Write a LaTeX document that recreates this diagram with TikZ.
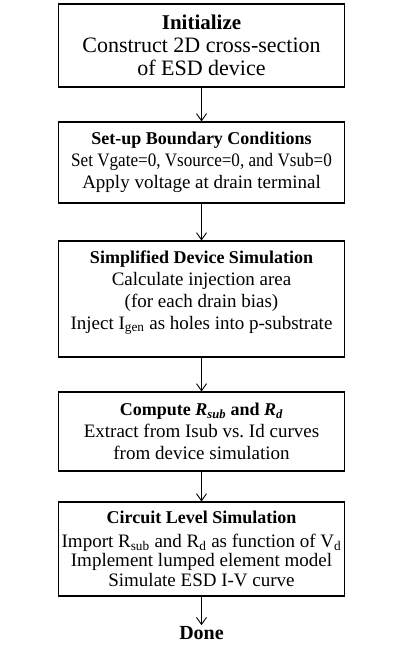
\documentclass[tikz,border=0pt]{standalone}
\usepackage{fontspec}
\setmainfont{Liberation Serif}
\usetikzlibrary{arrows.meta}

\newcommand{\stepfont}{\fontsize{19}{22}\selectfont}
\newcommand{\headfont}{\fontsize{18}{22}\selectfont\bfseries}

\begin{document}
\begin{tikzpicture}[
    x=1pt, y=-1pt,
    font=\stepfont,
    box/.style={draw, line width=1.1pt, minimum width=286pt, align=center, inner sep=2pt},
    arr/.style={-{Straight Barb[length=7pt, width=10pt]}, line width=0.9pt}
  ]
    \useasboundingbox (0,0) rectangle (399,647);

    % flow steps
    \node[box, minimum height=83pt, font=\fontsize{22}{23}\selectfont] (init) at (201.5,45.5)
      {{\fontsize{21}{23}\selectfont\bfseries Initialize}\\ Construct 2D cross-section\\ of ESD device};
    \node[box, minimum height=81pt] (bound) at (201.5,162.5)
      {{\headfont Set-up Boundary Conditions}\\
       {\addfontfeature{FakeStretch=0.9}Set Vgate=0, Vsource=0, and Vsub=0}\\ Apply voltage at drain terminal};
    \node[box, minimum height=116pt] (sim) at (201.5,299)
      {{\headfont Simplified Device Simulation}\\ Calculate injection area\\ (for each drain bias)\\
       Inject I\textsubscript{gen} as holes into p-substrate\\[-4pt]{}};
    \node[box, minimum height=79pt] (rsub) at (201.5,431.5)
      {{\headfont Compute \textit{R}\textsubscript{\textit{sub}} and \textit{R}\textsubscript{\textit{d}}}\\
       Extract from Isub vs.\ Id curves\\ from device simulation};
    \node[box, minimum height=94pt, font=\fontsize{19}{19.5}\selectfont] (circ) at (201.5,549)
      {{\headfont Circuit Level Simulation}\\[4pt]
       Import R\textsubscript{sub} and R\textsubscript{d} as function of V\textsubscript{d}\\
       Implement lumped element model\\ Simulate ESD I-V curve};
    \node[font=\fontsize{20}{22}\selectfont\bfseries, inner sep=1pt] (done) at (201.5,633) {Done};

    \foreach \a/\b in {init/bound, bound/sim, sim/rsub, rsub/circ, circ/done} \draw[arr] (\a) -- (\b);
\end{tikzpicture}
\end{document}
